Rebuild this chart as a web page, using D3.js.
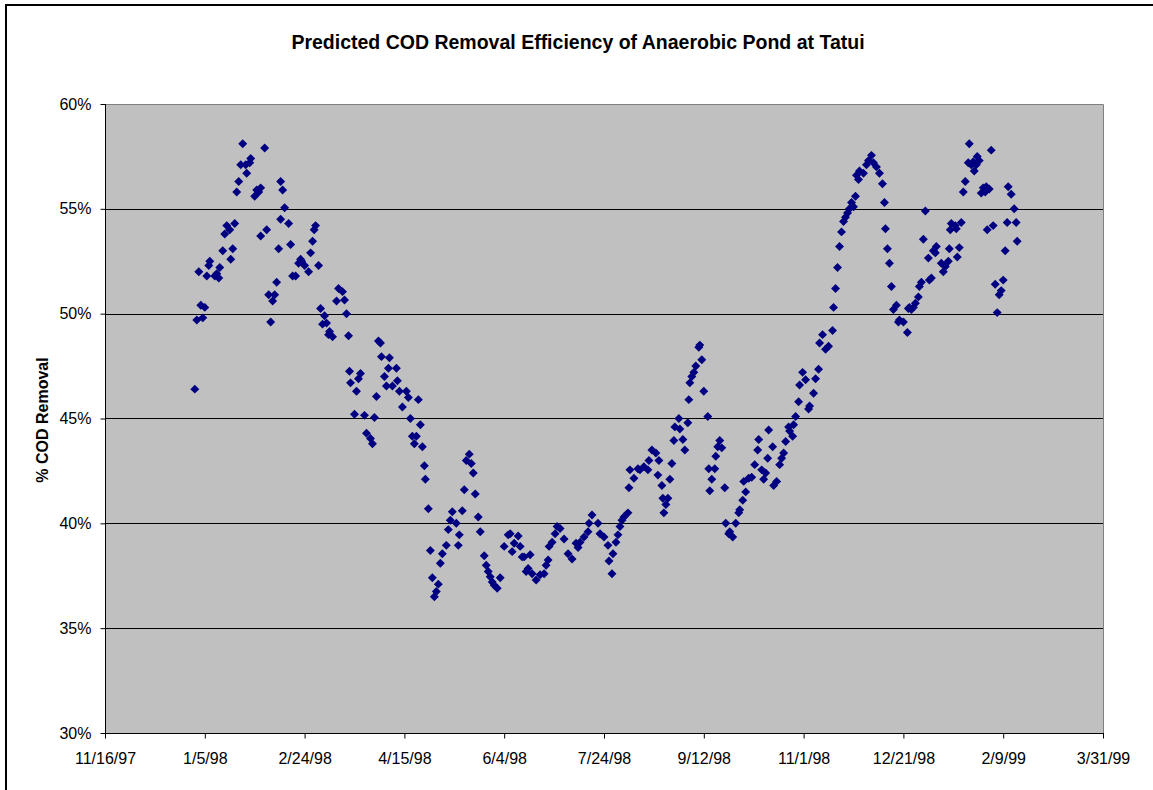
<!DOCTYPE html>
<html>
<head>
<meta charset="utf-8">
<script src="https://cdnjs.cloudflare.com/ajax/libs/d3/7.8.5/d3.min.js"></script>
<style>
    body { margin: 0; background: #fff; }
    svg { display: block; }
    text { font-family: Arial, "Liberation Sans", sans-serif; }
</style>
</head>
<body>
<div id="chart"></div>
<script>
// x axis runs from 11/16/97, ticks every 50 days
var axisStart = Date.UTC(1997, 10, 16);
var axisDays = 500,
    tickStep = 50;
var yTicks = [0.30, 0.35, 0.40, 0.45, 0.50, 0.55, 0.60];
var gridLines = [0.35, 0.40, 0.45, 0.50, 0.55];

// days after 11/16/97
var days = [
    45, 46, 47, 48, 49, 50, 51, 52, 52.5, 55, 56, 57, 57.5, 59, 60, 61, 62.5, 63, 64, 65,
    66, 67, 68, 69, 70.5, 71, 72.5, 73, 75, 76, 77, 78, 78, 80, 81, 82, 83, 84, 85, 86,
    87, 88, 88, 89, 90, 92, 93, 94, 95.5, 97, 98, 98.5, 100, 102, 103, 104, 104.8, 105.5, 107, 108,
    109, 110, 111, 112, 112.5, 114, 116, 117, 119, 120, 121, 122, 122.5, 123, 125, 126, 127, 128, 130, 131,
    133, 134, 135, 136, 137, 138, 138.5, 140, 141, 142, 142.5, 144, 146, 146.5, 147.5, 149, 151, 152, 153, 154,
    155, 156, 157, 158, 159, 160, 160.5, 162, 163, 164, 165, 166, 167, 168, 169, 171, 172, 173, 174, 176,
    177, 177.5, 179, 180, 181, 182.5, 183.5, 184.5, 185.5, 187, 188, 190, 191, 192, 193, 194, 195, 196.5, 198, 200,
    202, 203, 204, 205, 207, 208, 209, 210, 211, 212, 213, 214, 216, 218, 220, 221, 222, 222.5, 224, 225.5,
    226.5, 228, 230, 232, 234, 236, 237, 238, 240, 242, 242.5, 244, 247, 248, 250, 252, 252.5, 254, 254.5, 256,
    257, 258, 259, 260, 262, 262.5, 263, 265, 267, 268, 270, 272, 272.5, 274, 276, 277, 277.5, 279, 279.5, 280,
    281, 282, 283, 284, 285, 285.5, 287.5, 288, 289.5, 290.5, 292, 292.5, 293, 294, 295, 296, 297.5, 298, 299, 300,
    302, 302.5, 303, 304, 305.5, 306, 307, 308, 309, 310.5, 311, 312.5, 313, 314.5, 316, 317.5, 318, 319.5, 320, 321,
    322.5, 324, 325.5, 327, 327.5, 329, 330, 331, 332, 332.5, 334.5, 335, 336.5, 338, 339, 340, 341, 342.5, 343, 344.5,
    345, 346, 347.5, 348, 349.5, 351, 352.5, 353, 355, 356, 357.5, 358, 359.5, 361, 362.5, 364.5, 365, 366, 367, 368,
    369, 370, 371, 372, 373, 374, 375, 376, 376.5, 377.5, 378, 380, 381.5, 382.5, 384, 385, 386.5, 388, 389.5, 390.5,
    391, 392, 393, 394, 395, 396.5, 397.5, 398, 400, 402, 402.5, 403, 404, 405, 406, 407.5, 408, 409, 410, 411,
    412.5, 413, 414, 415, 416, 416.5, 419, 420, 421, 422.5, 423, 423.5, 424, 426, 426.5, 427, 428, 429, 430, 431,
    432.5, 433, 434, 435, 435.5, 436.5, 437, 438, 439, 440, 441, 441.5, 442, 443, 444, 445, 446, 447, 448, 449,
    450, 451, 452, 452.5, 454, 455.5, 456.5, 457
];

// predicted % COD removal
var removal = [
    46.4, 49.7, 52.0, 50.4, 49.8, 50.3, 51.8, 52.3, 52.5, 51.8, 51.9, 51.7, 52.2, 53.0, 53.8, 54.2, 54.0, 52.6, 53.1, 54.3,
    55.8, 56.3, 57.1, 58.1, 57.1, 56.7, 57.2, 57.4, 55.6, 55.9, 55.8, 56.0, 53.7, 57.9, 54.0, 50.9, 49.6, 50.6, 50.9, 51.5,
    53.1, 56.3, 54.5, 55.9, 55.05, 54.3, 53.3, 51.8, 51.8, 52.4, 52.6, 52.5, 52.3, 52.0, 52.9, 53.45, 54.0, 54.2, 52.3, 50.25,
    49.5, 49.9, 49.55, 49.0, 49.15, 48.9, 50.6, 51.2, 51.05, 50.65, 50.0, 48.95, 47.25, 46.7, 45.2, 46.3, 46.9, 47.15, 45.15, 44.3,
    44.05, 43.8, 45.05, 46.05, 48.7, 48.6, 47.95, 47.0, 46.55, 47.4, 47.9, 46.55, 47.4, 46.8, 46.3, 45.55, 46.3, 46.0, 45.0, 44.15,
    43.8, 44.15, 45.9, 44.7, 43.65, 42.75, 42.1, 40.7, 38.7, 37.4, 36.5, 36.75, 37.1, 38.1, 38.55, 38.95, 39.7, 40.15, 40.55, 40.0,
    38.95, 39.45, 40.6, 41.6, 43.0, 43.3, 42.85, 42.4, 41.4, 40.3, 39.6, 38.45, 38.0, 37.7, 37.45, 37.2, 37.05, 36.9, 37.4, 38.9,
    39.45, 39.5, 38.65, 39.05, 39.4, 38.9, 38.4, 38.4, 37.7, 37.85, 38.5, 37.6, 37.3, 37.55, 37.6, 38.0, 38.25, 38.9, 39.1, 39.5,
    39.85, 39.75, 39.25, 38.55, 38.3, 39.05, 38.85, 39.1, 39.35, 39.6, 40.0, 40.4, 40.0, 39.5, 39.35, 38.95, 38.2, 37.6, 38.55, 39.1,
    39.45, 39.85, 40.15, 40.3, 40.5, 41.7, 42.55, 42.15, 42.6, 42.55, 42.7, 42.55, 43.0, 43.5, 43.35, 42.3, 43.0, 41.8, 41.2, 40.5,
    40.9, 41.2, 42.1, 42.85, 43.95, 44.6, 45.0, 44.5, 44.0, 43.5, 44.8, 45.9, 46.7, 47.0, 47.2, 47.5, 48.4, 48.5, 47.8, 46.3,
    45.1, 42.6, 41.55, 42.1, 42.6, 43.2, 43.65, 43.95, 43.6, 41.7, 40.0, 39.5, 39.6, 39.35, 40.0, 40.5, 40.65, 41.1, 42.0, 41.5,
    42.15, 42.2, 42.8, 43.5, 44.0, 42.55, 42.1, 42.4, 43.1, 44.45, 43.65, 41.8, 42.0, 42.8, 43.1, 43.35, 43.9, 44.6, 44.4, 44.15,
    44.7, 45.1, 45.8, 46.6, 47.2, 46.85, 45.45, 45.6, 46.2, 46.9, 47.35, 48.6, 49.0, 48.3, 48.45, 49.2, 50.3, 51.2, 52.2, 53.2,
    53.9, 54.4, 54.6, 54.8, 55.0, 55.3, 55.1, 55.6, 56.6, 56.4, 56.8, 56.7, 57.1, 57.3, 57.55, 57.2, 57.0, 56.7, 56.2, 55.3,
    54.05, 53.1, 52.4, 51.3, 50.2, 50.4, 49.6, 49.7, 49.6, 49.1, 50.25, 50.3, 50.2, 50.3, 50.5, 50.8, 51.3, 51.5, 53.55, 54.9,
    52.65, 51.6, 51.7, 53.0, 52.9, 53.2, 52.4, 52.0, 52.25, 52.5, 53.1, 54.0, 54.3, 54.2, 54.05, 52.7, 53.15, 54.35, 55.8, 56.3,
    57.2, 58.1, 57.1, 57.25, 56.8, 57.1, 57.5, 57.3, 55.75, 56.0, 55.8, 56.05, 54.0, 55.95, 57.8, 54.2, 51.4, 50.05, 50.9, 51.1,
    51.6, 53.0, 54.35, 56.05, 55.7, 55.0, 54.35, 53.45
];

var points = days.map(function (d, i) {
    return { date: new Date(axisStart + d * 864e5), value: removal[i] / 100 };
});

var width = 1153, height = 790;
var plot = { left: 105, top: 104, right: 1103, bottom: 733 };

var svg = d3.select("#chart").append("svg")
    .attr("width", width)
    .attr("height", height);

// outer chart frame (runs off the right and bottom edges)
svg.append("rect")
    .attr("x", 6).attr("y", 5)
    .attr("width", 1170).attr("height", 820)
    .attr("fill", "#fff")
    .attr("stroke", "#000")
    .attr("stroke-width", 2);

var x = d3.scaleUtc()
    .domain([new Date(axisStart), d3.utcDay.offset(new Date(axisStart), axisDays)])
    .range([plot.left, plot.right]);

var y = d3.scaleLinear()
    .domain([0.30, 0.60])
    .range([plot.bottom, plot.top]);

// plot area
svg.append("rect")
    .attr("x", plot.left).attr("y", plot.top)
    .attr("width", plot.right - plot.left)
    .attr("height", plot.bottom - plot.top)
    .attr("fill", "#c0c0c0");

// gridlines
svg.append("g")
    .selectAll("line")
    .data(gridLines)
    .join("line")
    .attr("x1", plot.left).attr("x2", plot.right)
    .attr("y1", function (d) { return Math.round(y(d)) + 0.5; })
    .attr("y2", function (d) { return Math.round(y(d)) + 0.5; })
    .attr("stroke", "#000")
    .attr("stroke-width", 1);

// top and right border of plot area
svg.append("path")
    .attr("d", "M" + plot.left + "," + (plot.top + 0.5) + "H" + (plot.right + 0.5) + "V" + plot.bottom)
    .attr("fill", "none")
    .attr("stroke", "#808080");

var xTicks = d3.range(0, axisDays + 1, tickStep).map(function (d) {
    return d3.utcDay.offset(new Date(axisStart), d);
});

var xAxis = svg.append("g")
    .attr("transform", "translate(0," + (plot.bottom + 0.5) + ")")
    .call(d3.axisBottom(x)
        .tickValues(xTicks)
        .tickFormat(d3.utcFormat("%-m/%-d/%y"))
        .tickSize(5)
        .tickPadding(14));

var yAxis = svg.append("g")
    .attr("transform", "translate(" + (plot.left + 0.5) + ",0)")
    .call(d3.axisLeft(y)
        .tickValues(yTicks)
        .tickFormat(d3.format(".0%"))
        .tickSize(5)
        .tickPadding(9));

[xAxis, yAxis].forEach(function (g) {
    g.select(".domain").attr("stroke", "#000").attr("stroke-width", 1);
    g.selectAll(".tick line").attr("stroke", "#000");
    g.selectAll(".tick text")
        .attr("fill", "#000")
        .style("font-size", "16px")
        .style("font-family", "Arial, 'Liberation Sans', sans-serif");
});
xAxis.select(".domain").attr("d", "M" + plot.left + ",0H" + (plot.right + 1));
yAxis.select(".domain").attr("d", "M0," + plot.top + "V" + (plot.bottom + 1));

// markers
var diamond = d3.symbol().type(d3.symbolSquare).size(40);
svg.append("g")
    .selectAll("path")
    .data(points)
    .join("path")
    .attr("d", diamond)
    .attr("transform", function (d) {
        return "translate(" + x(d.date) + "," + y(d.value) + ") rotate(45)";
    })
    .attr("fill", "#000080");

// title
svg.append("text")
    .attr("x", 578).attr("y", 49)
    .attr("text-anchor", "middle")
    .style("font-size", "19.5px")
    .style("font-weight", "bold")
    .text("Predicted COD Removal Efficiency of Anaerobic Pond at Tatui");

// y axis title
svg.append("text")
    .attr("transform", "translate(48,420) rotate(-90)")
    .attr("text-anchor", "middle")
    .style("font-size", "16px")
    .style("font-weight", "bold")
    .text("% COD Removal");
</script>
</body>
</html>
